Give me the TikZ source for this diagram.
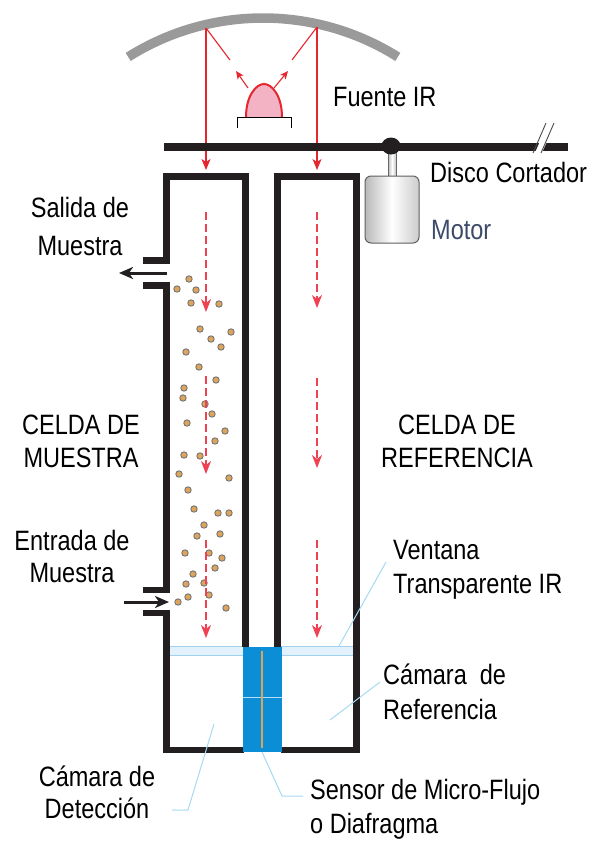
\documentclass[tikz,border=0pt]{standalone}
\usepackage{fontspec}
\setmainfont{Liberation Sans}[FakeStretch=0.84]
\usetikzlibrary{arrows.meta}
\definecolor{rayred}{HTML}{E5262F}
\definecolor{dashred}{HTML}{EE4152}
\definecolor{wallblack}{HTML}{231F20}
\definecolor{mirrorgray}{HTML}{9A9A9A}
\definecolor{leaderblue}{HTML}{A6DAF2}
\definecolor{winfill}{HTML}{E2F1FC}
\definecolor{winedge}{HTML}{9ED2EF}
\definecolor{sensorblue}{HTML}{0B8ED6}
\definecolor{grain}{HTML}{DDA55C}
\definecolor{motortext}{HTML}{3C4B68}
\definecolor{domepink}{HTML}{F3B3C4}
\newcommand{\lblfont}[1]{\fontsize{28}{#1}\selectfont}
\begin{document}
\begin{tikzpicture}[x=1pt,y=-1pt,
  wall/.style={draw=wallblack,line width=6.8pt,line join=miter},
  rayline/.style={draw=rayred,line width=1.1pt},
  raytip/.style={rayline,-{Stealth[length=11pt,width=9pt,inset=3pt]}},
  beam/.style={draw=dashred,line width=1.6pt,dash pattern=on 8pt off 4pt,
    -{Stealth[length=13pt,width=10pt,inset=4pt]}},
  flow/.style={draw=wallblack,line width=3pt,-{Stealth[length=14pt,width=12pt,inset=4pt]}},
  leader/.style={draw=leaderblue,line width=1pt},
  grainball/.style={fill=grain,draw=black!55,line width=0.9pt},
  lbl/.style={inner sep=0pt,text=black},
]
\useasboundingbox (0,0) rectangle (592,844);
\fill[white] (0,0) rectangle (592,844);

% ---- reference points ----
\coordinate (mirL) at (206,28);
\coordinate (mirR) at (317,27);
\coordinate (tipL) at (206,170);
\coordinate (tipR) at (317,170);

% ---- curved mirror ----
\draw[mirrorgray,line width=9.5pt] (263,271) ++(-122.2:253)
  arc[start angle=-122.2,end angle=-57.8,radius=253];

% ---- IR rays ----
\draw[rayline] (mirL) -- (230,60);
\draw[rayline] (mirR) -- (292,60);
\draw[raytip] (mirL) -- (tipL);
\draw[raytip] (mirR) -- (tipR);

% ---- IR source ----
\draw[raytip,-{Stealth[length=8pt,width=7pt,inset=2pt]}] (248,88) -- (236,71);
\draw[raytip,-{Stealth[length=8pt,width=7pt,inset=2pt]}] (274,88) -- (288,71);
\draw[fill=domepink,draw=rayred,line width=2pt]
  (246,117) .. controls (246,96) and (256,84) .. (264,84)
  .. controls (272,84) and (282,96) .. (282,117);
\draw[black,line width=0.9pt] (237,128) -- (237,117) -- (291,117) -- (291,128);
\node[lbl,anchor=west,font=\lblfont{34}] (fuente) at (333,97) {Fuente IR};

% ---- chopper bar and motor ----
\draw[wallblack,line width=8.5pt] (164,147) -- (568,147);
\fill[white] (535.5,151.5) -- (542.5,151.5) -- (546.5,142.5) -- (539.5,142.5) -- cycle;
\draw[black!70,line width=0.9pt] (533,153) -- (546,123);
\draw[black!70,line width=0.9pt] (541,153) -- (554,123);
\shade[left color=gray!55,right color=gray!45,middle color=white,draw=gray!80!black,line width=0.8pt]
  (388,152) rectangle (396,176);
\fill[wallblack] (391,146) ellipse[x radius=9.5,y radius=8.5];
\shade[left color=gray!55,right color=gray!40,middle color=white,draw=gray!75!black,line width=1pt,rounded corners=6pt]
  (365,176) rectangle (419,243);
\node[lbl,anchor=west,font=\lblfont{34}] (disco) at (430,172) {Disco Cortador};
\node[lbl,anchor=west,font=\lblfont{34},text=motortext] (motor) at (431,230) {Motor};

% ---- IR windows ----
\draw[fill=winfill,draw=winedge,line width=1pt] (168,646) rectangle (243,655);
\draw[fill=winfill,draw=winedge,line width=1pt] (281,646) rectangle (353,655);

% ---- cell walls ----
\draw[wall] (143,260.5) -- (166.5,260.5) -- (166.5,176.5) -- (245.5,176.5) -- (245.5,647);
\draw[wall] (143,285.5) -- (166.5,285.5) -- (166.5,590) -- (143,590);
\draw[wall] (143,613) -- (166.5,613) -- (166.5,750) -- (244,750);
\draw[wall] (281,750) -- (356.5,750) -- (356.5,176.5) -- (277.5,176.5) -- (277.5,647);

% ---- micro-flow sensor ----
\fill[sensorblue] (243,647) rectangle (282,752);
\draw[white!70!sensorblue,line width=0.9pt] (243,697) -- (282,697);
\draw[grain,line width=1.2pt] (262,651) -- (262,748);

% ---- sample particles ----
\foreach \px/\py in {189/279,177/289,196/290,191/303,219/304,200/329,231/332,211/339,
  221/347,186/352,199/367,216/380,184/388,183/398,205/404,212/414,187/423,225/431,
  215/441,184/455,200/456,179/474,229/478,188/490,194/509,218/513,229/513,204/525,
  197/536,220/534,185/553,209/553,222/558,215/568,193/574,186/584,204/583,188/597,
  209/595,178/602,226/608}
  \draw[grainball] (\px,\py) circle[radius=3.2];

% ---- beam inside cells ----
\draw[beam] (206,212) -- (206,312);
\draw[beam] (206,376) -- (206,474);
\draw[beam] (206,540) -- (206,638);
\draw[beam] (317,212) -- (317,308);
\draw[beam] (317,378) -- (317,468);
\draw[beam] (317,540) -- (317,638);

% ---- sample flow ----
\coordinate (outS) at (167,273);
\coordinate (outE) at (119,273);
\coordinate (inS) at (124,602);
\coordinate (inE) at (169,602);
\draw[flow] (outS) -- (outE);
\draw[flow] (inS) -- (inE);

% ---- labels ----
\node[lbl,align=center,font=\lblfont{38}] (salida) at (80,226) {Salida de\\Muestra};
\node[lbl,align=center,font=\lblfont{33}] (celdaM) at (81,441) {CELDA DE\\MUESTRA};
\node[lbl,align=center,font=\lblfont{32}] (entrada) at (72,556) {Entrada de\\Muestra};
\node[lbl,align=center,font=\lblfont{33}] (celdaR) at (457,441) {CELDA DE\\REFERENCIA};
\node[lbl,align=left,anchor=west,font=\lblfont{34}] (ventana) at (393,570) {Ventana\\Transparente IR};
\node[lbl,align=left,anchor=west,font=\lblfont{35}] (camRef) at (383,692) {Cámara~~de\\Referencia};
\node[lbl,align=center,font=\lblfont{32}] (camDet) at (97,792) {Cámara de\\Detección};
\node[lbl,align=left,anchor=west,font=\lblfont{34}] (sensor) at (310,809) {Sensor de Micro-Flujo\\o Diafragma};

% ---- leader lines ----
\coordinate (ptWin) at (339,646);
\coordinate (ptRef) at (330,720);
\coordinate (ptDet) at (214,724);
\coordinate (ptSen) at (262,752);
\draw[leader] (ptWin) -- (386,562);
\draw[leader] (ptRef) -- (380,682);
\draw[leader] (ptDet) -- (188,810) -- (172,810);
\draw[leader] (ptSen) -- (282,796) -- (303,796);
\end{tikzpicture}
\end{document}
